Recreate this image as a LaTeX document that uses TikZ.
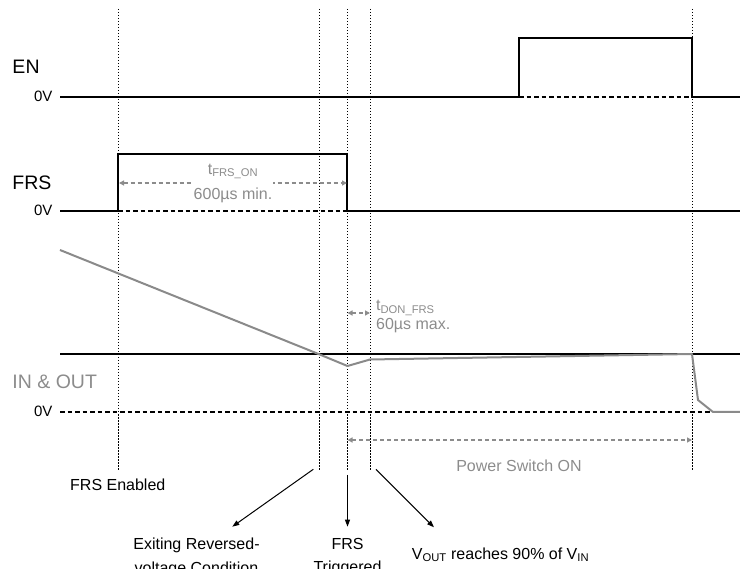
\documentclass[tikz,border=0pt]{standalone}
\usepackage{fontspec}
\setmainfont{Liberation Sans}
\usetikzlibrary{arrows.meta, positioning, calc}
\definecolor{wavegray}{HTML}{8A8A8A}
\definecolor{notegray}{HTML}{8C8C8C}

\begin{document}
\begin{tikzpicture}[x=1pt, y=-1pt,
  sig/.style={line width=2pt, line join=miter},
  zero/.style={line width=2pt, dash pattern=on 4.5pt off 3pt},
  guide/.style={line width=1pt, dash pattern=on 1.5pt off 1.5pt},
  wave/.style={line width=2pt, color=wavegray, line join=round},
  dim/.style={{Triangle[length=5pt,width=5pt]}-{Triangle[length=5pt,width=5pt]},
              line width=1.4pt, color=notegray, dash pattern=on 4pt off 3pt},
  callout/.style={-{Triangle[length=7pt,width=5pt]}, line width=1pt},
  chan/.style={font=\fontsize{19.5}{22}\selectfont, anchor=base west, inner sep=0pt},
  lvl/.style={font=\fontsize{15}{17}\selectfont, anchor=base east, inner sep=0pt},
  note/.style={font=\fontsize{16}{19}\selectfont, color=notegray, inner sep=0pt},
  event/.style={font=\fontsize{16}{23.4}\selectfont, align=center, inner sep=0pt},
]
  \useasboundingbox (0,0) rectangle (740,569);

  % time marks
  \foreach \x in {118,319,347,370,692}
    \draw[guide] (\x,9) -- (\x,470);

  % channel names and levels
  \node[chan] (en) at (12.3,73.3) {EN};
  \node[chan] (frs) at (12.3,189.3) {FRS};
  \node[chan, color=notegray] (inout) at (12.3,388.3) {IN \& OUT};
  \node[lvl] (en0) at (52.7,101.5) {0V};
  \node[lvl] (frs0) at (52.7,216) {0V};
  \node[lvl] (inout0) at (52.7,417) {0V};

  % EN
  \draw[zero] (519,97) -- (692,97);
  \draw[sig] (60,97) -- (519,97) -- (519,38) -- (692,38) -- (692,97) -- (740,97);

  % FRS
  \draw[zero] (118,211) -- (347,211);
  \draw[sig] (60,211) -- (118,211) -- (118,154) -- (347,154) -- (347,211) -- (740,211);

  % IN & OUT
  \draw[sig] (60,354) -- (740,354);
  \draw[zero] (60,412) -- (740,412);
  \draw[wave] (60,250) -- (318.5,354) -- (347.5,366) -- (370,359.5) -- (692,354)
    -- (698,400) -- (713,412) -- (740,412);

  % timing
  \coordinate (frsOnL) at (119,183);
  \coordinate (frsOnR) at (347,183);
  \draw[dim] (frsOnL) -- (frsOnR)
    node[midway, fill=white, inner xsep=1pt, align=center, font=\fontsize{16}{25}\selectfont]
    {t\textsubscript{FRS\_ON}\\600µs min.};

  \coordinate (donL) at (347.5,313);
  \coordinate (donR) at (370,313);
  \draw[dim] (donL) -- (donR);
  \node[note, anchor=north west, align=left] (don) at (376,300)
    {t\textsubscript{DON\_FRS}\\60µs max.};

  \coordinate (pswL) at (347.5,440);
  \coordinate (pswR) at (692,440);
  \draw[dim] (pswL) -- (pswR);
  \node[note, anchor=base] (psw) at (519,471.7) {Power Switch ON};

  % events
  \node[font=\fontsize{16}{19}\selectfont, anchor=base west, inner sep=0pt] (enabled) at (70,490.7) {FRS Enabled};
  \node[event, anchor=north] (exit) at (196.5,538) {Exiting Reversed-\\voltage Condition};
  \node[event, anchor=north] (trig) at (347.5,538) {FRS\\Triggered};
  \node[font=\fontsize{16}{19}\selectfont, anchor=base, inner sep=0pt] (vout) at (500.5,559.3)
    {V\textsubscript{OUT} reaches 90\% of V\textsubscript{IN}};

  \coordinate (exitFrom) at (313.3,469.3);
  \coordinate (exitTo) at (232.3,526.7);
  \coordinate (trigFrom) at (347.5,475);
  \coordinate (trigTo) at (347.5,526.7);
  \coordinate (voutFrom) at (376,469.3);
  \coordinate (voutTo) at (434,527.3);
  \draw[callout] (exitFrom) -- (exitTo);
  \draw[callout] (trigFrom) -- (trigTo);
  \draw[callout] (voutFrom) -- (voutTo);
\end{tikzpicture}
\end{document}
